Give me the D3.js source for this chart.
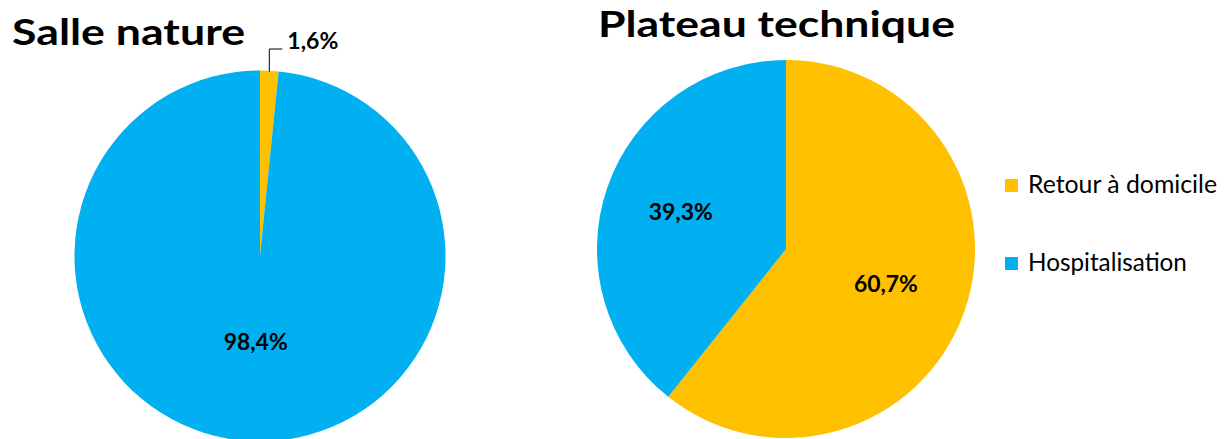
<!DOCTYPE html>
<html>
<head>
<meta charset="utf-8">
<script src="https://cdn.jsdelivr.net/npm/d3@7"></script>
<style>
  html, body { margin: 0; padding: 0; background: #fff; }
  svg { display: block; }
  text { font-family: Lato, "Open Sans", sans-serif; fill: #000; }
</style>
</head>
<body>
<svg id="chart" width="1230" height="439"></svg>
<script>
// ---- data ----
const categories = ["Retour à domicile", "Hospitalisation"];
const colors = ["#FFC000", "#00B0F0"];
const chartTitles = ["Salle nature", "Plateau technique"];
const salleNatureValues = [1.6, 98.4];
const plateauTechniqueValues = [60.7, 39.3];
const valueLabels = v => d3.format(".1f")(v).replace(".", ",") + "%";

const svg = d3.select("#chart");

function fitText(sel, targetWidth) {
  const node = sel.node();
  const fs = parseFloat(sel.attr("font-size"));
  const w = node.getComputedTextLength();
  sel.attr("font-size", (fs * targetWidth / w).toFixed(2));
  return sel;
}

const color = d3.scaleOrdinal().domain(categories).range(colors);
const pie = d3.pie().sort(null).value(d => d.value);

const pies = [
  { title: chartTitles[0], values: salleNatureValues, cx: 260, cy: 256, r: 185.5,
    titleX: 12, titleY: 45, titleW: 233, labelR: [null, 0.465] },
  { title: chartTitles[1], values: plateauTechniqueValues, cx: 786, cy: 249, r: 189,
    titleX: 598, titleY: 37, titleW: 357, labelR: [0.56, 0.59] }
];

pies.forEach((p, pi) => {
  const data = categories.map((c, i) => ({ cat: c, value: p.values[i] }));
  const arcs = pie(data);
  const g = svg.append("g").attr("transform", `translate(${p.cx},${p.cy})`);
  const arc = d3.arc().innerRadius(0).outerRadius(p.r);
  g.selectAll("path").data(arcs).join("path")
    .attr("d", arc)
    .attr("fill", d => color(d.data.cat));

  svg.append("text")
    .attr("x", p.titleX).attr("y", p.titleY)
    .attr("font-weight", 700).attr("font-size", 37)
    .attr("textLength", p.titleW)
    .attr("lengthAdjust", "spacingAndGlyphs")
    .text(p.title);

  arcs.forEach((a, i) => {
    const mid = (a.startAngle + a.endAngle) / 2;
    if (p.labelR[i] != null) {
      const rr = p.labelR[i] * p.r;
      const x = Math.sin(mid) * rr;
      const y = -Math.cos(mid) * rr;
      const lt = g.append("text")
        .attr("x", x).attr("y", y + 8)
        .attr("text-anchor", "middle")
        .attr("font-weight", 700).attr("font-size", 22)
        .text(valueLabels(a.data.value));
      fitText(lt, 64);
    } else {
      const px = Math.sin(mid) * p.r;
      const py = -Math.cos(mid) * p.r;
      const ly = -207;
      g.append("path")
        .attr("d", `M${px},${py + 1}L${px},${ly}L${px + 13},${ly}`)
        .attr("fill", "none").attr("stroke", "#000").attr("stroke-width", 1);
      const lt = g.append("text")
        .attr("x", px + 18).attr("y", ly)
        .attr("font-weight", 700).attr("font-size", 19)
        .text(valueLabels(a.data.value));
      fitText(lt, 51);
    }
  });
});

// legend
const legendY = [186, 264];
const legendW = [189, 159];
const lg = svg.append("g");
categories.forEach((c, i) => {
  lg.append("rect")
    .attr("x", 1005).attr("y", legendY[i] - 7)
    .attr("width", 13).attr("height", 13)
    .attr("fill", color(c));
  const lt = lg.append("text")
    .attr("x", 1028).attr("y", legendY[i] + 7)
    .attr("font-size", 21)
    .text(c);
  fitText(lt, legendW[i]);
});
</script>
</body>
</html>
